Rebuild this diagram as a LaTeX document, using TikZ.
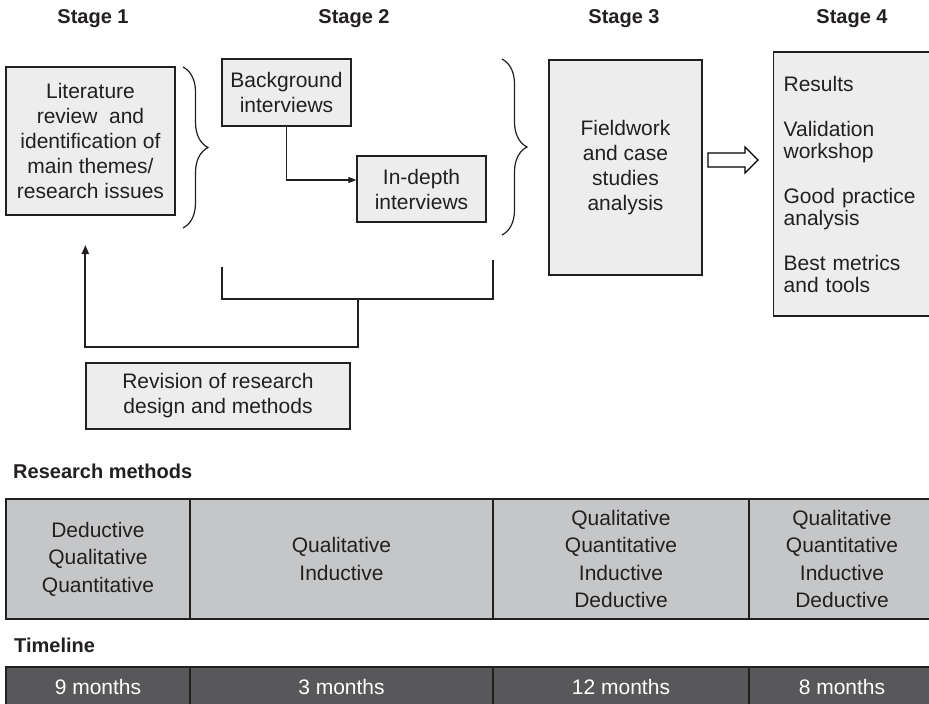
\documentclass[tikz,border=0pt]{standalone}
\usepackage{fontspec}
\setmainfont{Liberation Sans}
\usetikzlibrary{decorations.pathreplacing,arrows.meta}
\definecolor{boxgray}{HTML}{EDEDED}
\definecolor{tablegray}{HTML}{C5C6C8}
\definecolor{bargray}{HTML}{58585A}
\definecolor{inkgray}{HTML}{231F20}

\begin{document}
\begin{tikzpicture}[x=1pt, y=-1pt,
      every node/.append style={font=\fontsize{21}{25}\selectfont,color=inkgray,inner sep=0pt,align=center},
      box/.style={draw=inkgray,fill=boxgray,line width=1.3pt},
      cell/.style={draw=inkgray,fill=tablegray,line width=1.3pt,font=\fontsize{21}{27.5}\selectfont},
      barcell/.style={draw=inkgray,fill=bargray,line width=1.3pt,text=white,minimum height=40pt},
      bracket/.style={draw=inkgray,line width=1.2pt,decorate,decoration={brace,amplitude=25pt}},
      fbline/.style={draw=inkgray,line width=2pt},
      thinline/.style={draw=inkgray,line width=1.1pt}]
    \tikzstyle{stagelbl} = [font=\bfseries\fontsize{20}{24}\selectfont]
    \path[fill=white] (0,0) rectangle (929,704);
    \useasboundingbox (0,0) rectangle (929,704);

    \node (stage1) [stagelbl] at (93,19) {Stage 1};
    \node (stage2) [stagelbl] at (354,19) {Stage 2};
    \node (stage3) [stagelbl] at (624,19) {Stage 3};
    \node (stage4) [stagelbl] at (852,19) {Stage 4};

    \node (lit) [box,minimum width=169pt,minimum height=148pt] at (90.5,141)
      {Literature\\review\ \ and\\identification of\\main themes/\\research issues};
    \node (bg) [box,minimum width=129pt,minimum height=67pt] at (286.5,92.5) {Background\\interviews};
    \node (indepth) [box,minimum width=129pt,minimum height=66pt] at (421.5,189) {In-depth\\interviews};
    \node (field) [box,minimum width=153pt,minimum height=215pt] at (625.5,167.5)
      {Fieldwork\\and case\\studies\\analysis};
    \node (results) [box,anchor=west,align=left,text width=146pt,inner xsep=10pt,minimum height=264pt,
      font=\fontsize{21}{22}\selectfont] at (773,184)
      {Results\\[23pt]Validation\\workshop\\[23pt]Good practice\\analysis\\[23pt]Best metrics\\and tools};
    \node (revision) [box,minimum width=264pt,minimum height=66pt] at (218,396)
      {Revision of research\\design and methods};

    \draw[bracket] (183,67) -- (183,228);
    \draw[bracket] (502,59) -- (502,235);

    \coordinate (bgturn) at (bg.south |- 0,180);
    \draw[thinline,-{Triangle[length=8pt,width=6pt]}] (bg.south) -- (bgturn) -- (bgturn -| indepth.west);

    \draw[line width=1.2pt,fill=white] (708,153) -- (745,153) -- (745,147) -- (758,160)
      -- (745,173) -- (745,167) -- (708,167) -- cycle;

    \coordinate (fbl) at (222,267);
    \coordinate (fbr) at (493,260);
    \coordinate (fbmid) at (358,299);
    \coordinate (fbturn) at (358,347);
    \coordinate (litarrow) at (revision.west |- 0,245);
    \draw[fbline] (fbl) -- (fbl |- fbmid) -- (fbr |- fbmid) -- (fbr);
    \draw[fbline,-{Triangle[length=9pt,width=7pt]}] (fbmid) -- (fbturn) -- (litarrow |- fbturn) -- (litarrow);

    \node (methodslbl) [stagelbl,anchor=west] at (13,471) {Research methods};
    \node (m1) [cell,minimum width=184pt,minimum height=120pt] at (98,559) {Deductive\\Qualitative\\Quantitative};
    \node (m2) [cell,minimum width=303pt,minimum height=120pt] at (341.5,559) {Qualitative\\Inductive};
    \node (m3) [cell,minimum width=256pt,minimum height=120pt] at (621,559) {Qualitative\\Quantitative\\Inductive\\Deductive};
    \node (m4) [cell,minimum width=186pt,minimum height=120pt] at (842,559) {Qualitative\\Quantitative\\Inductive\\Deductive};

    \node (timelbl) [stagelbl,anchor=west] at (14,645) {Timeline};
    \node (t1) [barcell,minimum width=184pt] at (98,687) {9 months};
    \node (t2) [barcell,minimum width=303pt] at (341.5,687) {3 months};
    \node (t3) [barcell,minimum width=256pt] at (621,687) {12 months};
    \node (t4) [barcell,minimum width=186pt] at (842,687) {8 months};
  \end{tikzpicture}
\end{document}
